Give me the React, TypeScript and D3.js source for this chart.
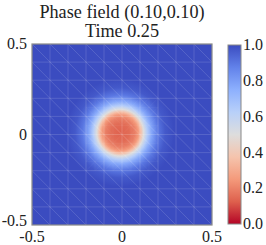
import React from 'react'
import * as d3 from 'd3'

// coolwarm colormap stops (0 = blue end, 1 = red end)
const cmapStops = [0, 0.125, 0.25, 0.375, 0.5, 0.625, 0.75, 0.875, 1]
const cmapColors = ['#3b4cc0', '#6282ea', '#8db0fe', '#b8d0f9', '#dddddd', '#f5c4ad', '#f49a7b', '#de604d', '#b40426']

// radial phase profile
const profileR = [0, 0.05, 0.08, 0.1, 0.115, 0.13, 0.15, 0.175, 0.21, 0.25, 0.3]
const profilePhi = [0.13, 0.15, 0.19, 0.25, 0.36, 0.5, 0.64, 0.78, 0.9, 0.97, 1.0]
const blobCenter = [-0.01, 0.01]

// mesh
const meshTicks = [-0.5, -0.4, -0.3, -0.2, -0.1, 0, 0.1, 0.2, 0.3, 0.4, 0.5]
const fineTicks = [-0.2, -0.15, -0.1, -0.05, 0, 0.05, 0.1, 0.15, 0.2]

const axisTicks = [-0.5, 0, 0.5]
const axisLabels = ['-0.5', '0', '0.5']
const cbarTicks = [0, 0.2, 0.4, 0.6, 0.8, 1.0]
const cbarLabels = ['0.0', '0.2', '0.4', '0.6', '0.8', '1.0']

const titleLines = ['Phase field (0.10,0.10)', 'Time 0.25']

const W = 266
const H = 245
const font = 'Liberation Serif'

const App = () => {
  const x = d3.scaleLinear().domain([-0.5, 0.5]).range([32, 212])
  const y = d3.scaleLinear().domain([-0.5, 0.5]).range([225, 44])
  const cy = d3.scaleLinear().domain([0, 1]).range([224, 45])

  // phase 1 -> blue, 0 -> red
  const cool = d3.scaleLinear<string>().domain(cmapStops).range(cmapColors).interpolate(d3.interpolateRgb)
  const color = (v: number) => cool(1 - v)

  const px = x(blobCenter[0])
  const py = y(blobCenter[1])
  const rMax = profileR[profileR.length - 1]
  const rPx = x(rMax) - x(0)

  const lines: [number, number, number, number][] = []
  meshTicks.forEach(t => {
    lines.push([t, -0.5, t, 0.5])
    lines.push([-0.5, t, 0.5, t])
  })
  for (let i = 0; i < meshTicks.length - 1; i++) {
    for (let j = 0; j < meshTicks.length - 1; j++) {
      const x0 = meshTicks[i], x1 = meshTicks[i + 1]
      const y0 = meshTicks[j], y1 = meshTicks[j + 1]
      lines.push([x0, y1, x1, y0])
    }
  }
  const fine: [number, number, number, number][] = []
  fineTicks.forEach(t => {
    fine.push([t, -0.2, t, 0.2])
    fine.push([-0.2, t, 0.2, t])
  })
  for (let i = 0; i < fineTicks.length - 1; i++) {
    for (let j = 0; j < fineTicks.length - 1; j++) {
      const x0 = fineTicks[i], x1 = fineTicks[i + 1]
      const y0 = fineTicks[j], y1 = fineTicks[j + 1]
      const mid = (x0 + x1) / 2 * ((y0 + y1) / 2)
      if (mid >= 0) fine.push([x0, y0, x1, y1])
      else fine.push([x0, y1, x1, y0])
    }
  }

  return (
    <svg width={W} height={H} style={{ position: 'absolute', left: 0, top: 0 }}>
      <defs>
        <radialGradient id="blob" gradientUnits="userSpaceOnUse" cx={px} cy={py} r={rPx}>
          {profileR.map((r, i) => (
            <stop key={i} offset={r / rMax} stopColor={color(profilePhi[i])} />
          ))}
        </radialGradient>
        <linearGradient id="cbar" x1="0" y1="1" x2="0" y2="0">
          {cmapStops.map((s, i) => (
            <stop key={i} offset={s} stopColor={color(s)} />
          ))}
        </linearGradient>
        <clipPath id="plot">
          <rect x={x(-0.5)} y={y(0.5)} width={x(0.5) - x(-0.5)} height={y(-0.5) - y(0.5)} />
        </clipPath>
      </defs>

      {titleLines.map((t, i) => (
        <text key={i} x={(x(-0.5) + x(0.5)) / 2} y={18 + i * 19} textAnchor="middle" fontFamily={font} fontSize={18.2} fill="#222">
          {t}
        </text>
      ))}

      <g clipPath="url(#plot)">
        <rect x={x(-0.5)} y={y(0.5)} width={x(0.5) - x(-0.5)} height={y(-0.5) - y(0.5)} fill={color(1)} />
        <circle cx={px} cy={py} r={rPx} fill="url(#blob)" />
        {lines.map((l, i) => (
          <line key={i} x1={x(l[0])} y1={y(l[1])} x2={x(l[2])} y2={y(l[3])} stroke="#ffffff" strokeOpacity={0.2} strokeWidth={0.7} />
        ))}
        {fine.map((l, i) => (
          <line key={'f' + i} x1={x(l[0])} y1={y(l[1])} x2={x(l[2])} y2={y(l[3])} stroke="#ffffff" strokeOpacity={0.08} strokeWidth={0.5} />
        ))}
      </g>
      <rect x={x(-0.5)} y={y(0.5)} width={x(0.5) - x(-0.5)} height={y(-0.5) - y(0.5)} fill="none" stroke="#888" strokeWidth={1.2} />

      {axisTicks.map((t, i) => (
        <text key={'x' + i} x={x(t)} y={242} textAnchor="middle" fontFamily={font} fontSize={16} fill="#222">
          {axisLabels[i]}
        </text>
      ))}
      {axisTicks.map((t, i) => (
        <text key={'y' + i} x={27} y={y(t) + (t < 0 ? -4 : 0)} dy="0.33em" textAnchor="end" fontFamily={font} fontSize={16} fill="#222">
          {axisLabels[i]}
        </text>
      ))}

      <rect x={228} y={cy(1)} width={13} height={cy(0) - cy(1)} fill="url(#cbar)" stroke="#888" strokeWidth={1} />
      {cbarTicks.map((t, i) => (
        <text key={'c' + i} x={243} y={cy(t)} dy="0.33em" fontFamily={font} fontSize={16} fill="#222">
          {cbarLabels[i]}
        </text>
      ))}
    </svg>
  )
}

export default App
